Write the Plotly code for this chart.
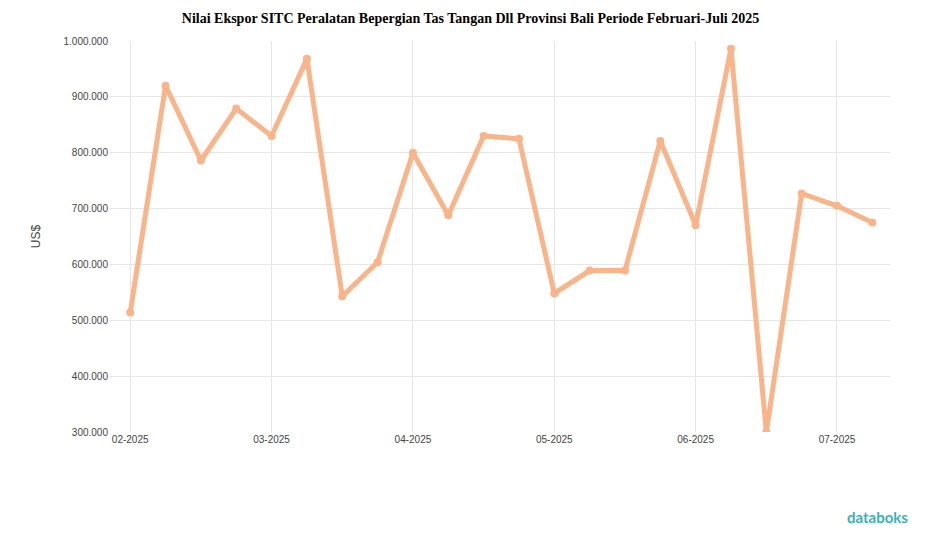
import plotly.graph_objects as go

idx = list(range(22))
values = [514000, 920000, 786000, 879000, 830000, 968000, 543000, 604000, 800000, 688000, 830000,
          825000, 548000, 589000, 589000, 821000, 670000, 986000, 300000, 727000, 705000, 675000]
tick_pos = [0, 4, 8, 12, 16, 20]
tick_labels = ["02-2025", "03-2025", "04-2025", "05-2025", "06-2025", "07-2025"]

fig = go.Figure(go.Scatter(x=idx, y=values, mode="lines+markers",
                           line=dict(color="#f9b48a", width=5),
                           marker=dict(color="#f9b48a", size=8)))
fig.update_layout(
    width=925, height=547, plot_bgcolor="white", paper_bgcolor="white",
    margin=dict(l=101, r=43, t=33, b=123),
    title=dict(text="<b>Nilai Ekspor SITC Peralatan Bepergian Tas Tangan Dll Provinsi Bali Periode Februari-Juli 2025</b>",
               x=0.5, y=0.99, font=dict(family="Liberation Serif", size=14, color="black")),
    showlegend=False,
    font=dict(family="Liberation Sans", size=10, color="#444"),
)
fig.update_xaxes(tickvals=tick_pos, ticktext=tick_labels, range=[-0.6, 21.5],
                 showgrid=True, gridcolor="#e6e6e6", zeroline=False)
fig.update_yaxes(range=[300000, 1000000], dtick=100000, tickformat=",.0f",
                 showgrid=True, gridcolor="#e6e6e6", zeroline=False,
                 title=dict(text="US$", standoff=20))
fig.update_layout(separators=",.")
fig.add_annotation(text="<b>databoks</b>", xref="paper", yref="paper", x=1.025, y=-0.245,
                   showarrow=False, xanchor="right", font=dict(size=15, color="#3bb0b5", family="Lato"))
fig.write_html("out.html")
